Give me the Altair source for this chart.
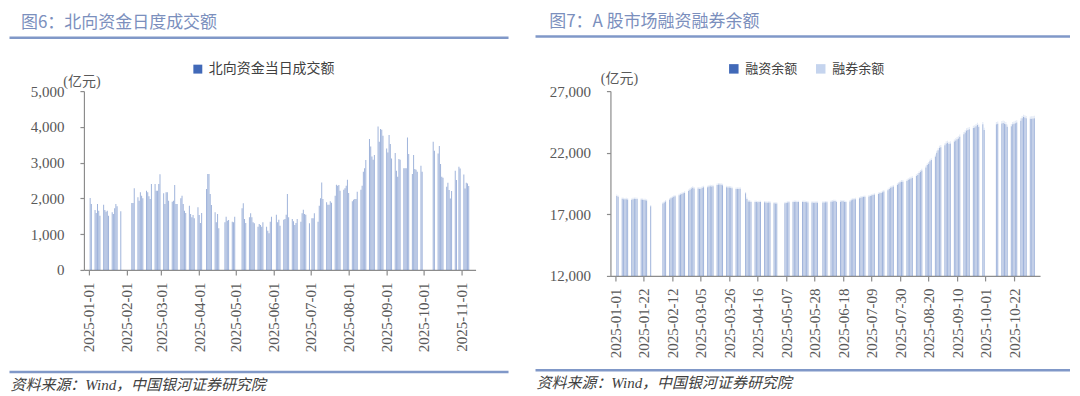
import altair as alt
import pandas as pd

# ---------------- data ----------------
TITLE_L = "图6：北向资金日度成交额"
TITLE_R = "图7：A 股市场融资融券余额"
SOURCE = "资料来源：Wind，中国银河证券研究院"
UNIT = "(亿元)"
SERIES_NB = "北向资金当日成交额"
SERIES_FIN = "融资余额"
SERIES_SEC = "融券余额"

# market closures (mainland) and extra northbound-connect closures (HK)
HOLIDAYS_CN = ["2025-01-01", "2025-01-28", "2025-01-29", "2025-01-30", "2025-01-31",
               "2025-02-03", "2025-02-04", "2025-04-04", "2025-05-01", "2025-05-02",
               "2025-05-05", "2025-06-02", "2025-10-01", "2025-10-02", "2025-10-03",
               "2025-10-06", "2025-10-07", "2025-10-08"]
HOLIDAYS_NB_EXTRA = ["2025-04-18", "2025-04-21", "2025-07-01", "2025-10-29"]

# 北向资金当日成交额 (亿元), by month
NB = {
    1: [2011, 1843, 1676, 1592, 1843, 1657, 1517, 1825, 1676, 1629, 1657, 1517, 1611, 1564, 1722, 1843, 1778, 1639],
    2: [1871, 1871, 2281, 2030, 1936, 2169, 2076, 2002, 2216, 2169, 2057, 1983, 2402, 2402, 2216, 2216, 2402, 2672],
    3: [2141, 1843, 2169, 2169, 1936, 1908, 1936, 2374, 1843, 1843, 2002, 2076, 1843, 1657, 1592, 1797, 1564, 1471, 1536, 1443, 1750],
    4: [1536, 1313, 1592, 2262, 2681, 2681, 2123, 1815, 1611, 1331, 1564, 1164, 1331, 1490, 1378, 1396, 1350, 1331, 1490],
    5: [1722, 1862, 1424, 1313, 1471, 1583, 1471, 1331, 1303, 1210, 1285, 1257, 1210, 1331, 1210, 1099, 1024, 1350, 1490],
    6: [1545, 1331, 1406, 1238, 1406, 1424, 1545, 2123, 1471, 1424, 1359, 1257, 1313, 1424, 1350, 1583, 1685, 1564, 1545, 1303],
    7: [1443, 1443, 1583, 1350, 1797, 2002, 2448, 1983, 1890, 1825, 1825, 1918, 1880, 2076, 2383, 2355, 2374, 2216, 2244, 2281, 2355, 2523],
    8: [2151, 1918, 1964, 1983, 1983, 2188, 2244, 2355, 2746, 2840, 3072, 3659, 3454, 3175, 3082, 3212, 4012, 3585, 3938, 3920, 3752],
    9: [3398, 3286, 3770, 3519, 3119, 3268, 2774, 2607, 3100, 3082, 2840, 2840, 2840, 3705, 3240, 2681, 3212, 2821, 2802, 2746, 2914, 2746],
    10: [3584, 3332, 3257, 3464, 2961, 2606, 2580, 2327, 2439, 2234, 2000, 2207, 2774, 2514, 2885, 2838],
    11: [2670, 2279, 2439, 2419, 2346],
}

# 融资余额 (亿元), by month
FIN = {
    1: [18490, 18420, 18260, 18230, 18220, 18230, 18200, 18180, 18230, 18260, 18250, 18240, 18200, 18180, 18160, 18150, 18120, 17650],
    2: [17870, 17950, 18050, 18200, 18300, 18360, 18420, 18460, 18550, 18600, 18650, 18700, 18760, 18900, 19000, 19090, 19150, 19100],
    3: [19100, 19050, 19080, 19150, 19200, 19200, 19250, 19280, 19250, 19280, 19380, 19410, 19420, 19400, 19350, 19200, 19170, 19170, 19150, 19120, 19050],
    4: [19050, 19060, 19080, 18700, 18250, 18050, 18050, 18000, 18010, 18000, 17980, 17990, 17990, 17970, 17950, 17940, 17950, 17960, 17900, 17880, 17870],
    5: [17900, 17920, 17960, 17980, 18000, 18010, 18020, 18000, 17990, 18000, 18010, 17990, 17980, 17960, 17950, 17940, 17940, 17950, 17930],
    6: [17950, 17960, 17970, 17980, 18020, 18050, 18070, 18080, 18000, 18030, 18060, 18060, 18010, 18000, 18050, 18150, 18200, 18220, 18230, 18300],
    7: [18350, 18380, 18400, 18420, 18450, 18480, 18520, 18560, 18600, 18650, 18700, 18740, 18800, 18850, 18950, 19050, 19150, 19200, 19250, 19400, 19500, 19600, 19650],
    8: [19650, 19700, 19800, 19850, 19900, 19950, 20100, 20200, 20350, 20450, 20550, 20800, 21000, 21100, 21300, 21400, 21700, 22000, 22200, 22400, 22450],
    9: [22600, 22750, 22800, 22700, 22750, 22900, 23000, 23100, 23150, 23300, 23500, 23650, 23800, 23850, 23900, 24000, 24050, 24150, 24250, 24100, 24300, 23850],
    10: [24300, 24350, 24380, 24420, 24360, 24300, 24100, 24150, 24300, 24350, 24400, 24450, 24600, 24800, 24900, 24850, 24800],
    11: [24750, 24760, 24780, 24800],
}

# 融券余额 (亿元), by month
SEC = {
    1: [112, 113, 114, 113, 112, 112, 111, 111, 112, 113, 113, 112, 112, 111, 111, 112, 112, 110],
    2: [110, 111, 112, 113, 113, 114, 115, 116, 117, 117, 118, 119, 120, 121, 122, 123, 123, 122],
    3: [122, 121, 122, 123, 124, 124, 125, 126, 126, 127, 128, 128, 127, 127, 126, 125, 124, 124, 123, 122, 121],
    4: [121, 121, 120, 116, 112, 110, 110, 109, 109, 108, 108, 108, 107, 107, 107, 106, 106, 106, 105, 105, 105],
    5: [105, 106, 106, 107, 107, 108, 108, 108, 107, 107, 108, 108, 107, 107, 107, 106, 106, 107, 106],
    6: [106, 106, 107, 107, 108, 108, 109, 109, 108, 108, 109, 109, 108, 108, 109, 110, 111, 111, 112, 113],
    7: [114, 114, 115, 115, 116, 117, 118, 118, 119, 120, 121, 121, 122, 123, 124, 126, 127, 128, 129, 131, 132, 134, 135],
    8: [135, 136, 137, 138, 139, 140, 142, 143, 145, 147, 148, 150, 152, 154, 156, 158, 160, 163, 165, 167, 168],
    9: [170, 171, 172, 171, 172, 173, 174, 175, 176, 177, 178, 179, 180, 181, 181, 182, 182, 183, 184, 183, 184, 182],
    10: [183, 184, 184, 185, 184, 183, 181, 182, 183, 184, 185, 186, 187, 189, 190, 190, 189],
    11: [189, 190, 190, 191],
}

LEFT_TICKS = ["2025-01-01", "2025-02-01", "2025-03-01", "2025-04-01", "2025-05-01", "2025-06-01",
              "2025-07-01", "2025-08-01", "2025-09-01", "2025-10-01", "2025-11-01"]
RIGHT_TICKS = ["2025-01-01", "2025-01-22", "2025-02-12", "2025-03-05", "2025-03-26", "2025-04-16",
               "2025-05-07", "2025-05-28", "2025-06-18", "2025-07-09", "2025-07-30", "2025-08-20",
               "2025-09-10", "2025-10-01", "2025-10-22"]
LEFT_Y_TICKS = [0, 1000, 2000, 3000, 4000, 5000]
RIGHT_Y_TICKS = [12000, 17000, 22000, 27000]
LEFT_X_DOMAIN = ["2025-01-01", "2025-11-08T12:00:00"]
RIGHT_X_DOMAIN = ["2025-01-01", "2025-11-06T12:00:00"]


def trading_days(month, closed):
    start = pd.Timestamp(2025, month, 1)
    end = start + pd.offsets.MonthEnd(0)
    days = [d for d in pd.bdate_range(start, end) if d.strftime("%Y-%m-%d") not in closed]
    return [d.strftime("%Y-%m-%d") for d in days]


closed_nb = set(HOLIDAYS_CN) | set(HOLIDAYS_NB_EXTRA)
closed_cn = set(HOLIDAYS_CN)

nb_rows = []
for m, vals in NB.items():
    for d, v in zip(trading_days(m, closed_nb), vals):
        nb_rows.append({"date": d, "value": v, "series": SERIES_NB})
nb_df = pd.DataFrame(nb_rows)

mg_rows = []
for m in FIN:
    days = trading_days(m, closed_cn)
    for d, f, s in zip(days, FIN[m], SEC[m]):
        mg_rows.append({"date": d, "value": f, "series": SERIES_FIN, "ord": 0})
        mg_rows.append({"date": d, "value": s, "series": SERIES_SEC, "ord": 1})
mg_df = pd.DataFrame(mg_rows)


def dt(s):
    y, mo, rest = s.split("-")
    if "T" in rest:
        dd, tm = rest.split("T")
        hh = int(tm.split(":")[0])
    else:
        dd, hh = rest, 0
    return alt.DateTime(year=int(y), month=int(mo), date=int(dd), hours=hh, utc=True)


# ---------------- style ----------------
NUM_FONT = "Liberation Serif"
CJK_FONT = "Noto Sans CJK SC"
MIX_FONT = "Liberation Serif, Noto Sans CJK SC"
AXIS_COLOR = "#8c8c8c"
LABEL_COLOR = "#595959"
TITLE_COLOR = "#7b8fbd"
RULE_COLOR = "#8098c8"
DARK_BLUE = "#4169b8"
LIGHT_BLUE = "#c5d4ee"


def x_axis(ticks):
    return alt.Axis(values=[dt(t) for t in ticks],
                    labelExpr="utcFormat(datum.value, '%Y-%m-%d')",
                    labelAngle=270, labelAlign="right", labelBaseline="middle",
                    labelFont=NUM_FONT, labelFontSize=15, labelColor=LABEL_COLOR,
                    labelPadding=7, tickSize=5, tickColor=AXIS_COLOR, domainColor=AXIS_COLOR,
                    domainWidth=1.2, tickWidth=1.2, grid=False, title=None,
                    labelOverlap=False, labelFlush=False)


def y_axis(ticks):
    return alt.Axis(values=ticks, format=",.0f", labelFont=NUM_FONT, labelFontSize=15,
                    labelColor=LABEL_COLOR, labelPadding=16, tickSize=4, tickColor=AXIS_COLOR,
                    domainColor=AXIS_COLOR, domainWidth=1.2, tickWidth=1.2, grid=False, title=None)


def one(text):
    return alt.Chart(pd.DataFrame({"t": [text]}))


def decorations(title, tx, ty, ux, uy, rule_x1, rule_x2, top_y, bot_y, src_y, blank_y):
    blank = one("").mark_rule(color="white", strokeWidth=1).encode(
        x=alt.value(rule_x1), x2=alt.value(rule_x2), y=alt.value(blank_y))
    ttl = one(title).mark_text(align="left", baseline="middle", font=CJK_FONT, fontSize=17,
                               color=TITLE_COLOR).encode(text="t:N", x=alt.value(tx), y=alt.value(ty))
    top_rule = one("").mark_rule(color=RULE_COLOR, strokeWidth=2.5).encode(
        x=alt.value(rule_x1), x2=alt.value(rule_x2), y=alt.value(top_y))
    bot_rule = one("").mark_rule(color=RULE_COLOR, strokeWidth=2.5).encode(
        x=alt.value(rule_x1), x2=alt.value(rule_x2), y=alt.value(bot_y))
    src = one(SOURCE).mark_text(align="left", baseline="middle", font=MIX_FONT, fontSize=15,
                                fontStyle="italic", color="#404040").encode(
        text="t:N", x=alt.value(rule_x1 + 1), y=alt.value(src_y))
    unit = one(UNIT).mark_text(align="center", baseline="middle", font=MIX_FONT, fontSize=14,
                               color=LABEL_COLOR).encode(text="t:N", x=alt.value(ux), y=alt.value(uy))
    return [blank, ttl, top_rule, bot_rule, src, unit]


# ---------------- left panel ----------------
left_bars = alt.Chart(nb_df).mark_bar(size=1, opacity=0.5, clip=True).encode(
    x=alt.X("date:T", scale=alt.Scale(type="utc", domain=[dt(s) for s in LEFT_X_DOMAIN]),
            axis=x_axis(LEFT_TICKS)),
    y=alt.Y("value:Q", scale=alt.Scale(domain=[0, 5000], nice=False), axis=y_axis(LEFT_Y_TICKS)),
    color=alt.Color("series:N", scale=alt.Scale(domain=[SERIES_NB], range=[DARK_BLUE]),
                    legend=alt.Legend(title=None, orient="none", legendX=107, legendY=-29,
                                      symbolType="square", symbolSize=80, symbolOpacity=1,
                                      symbolStrokeWidth=0, labelFont=CJK_FONT, labelFontSize=14,
                                      labelColor="#404040", labelOffset=4, padding=0)),
)

left = alt.layer(
    left_bars,
    *decorations(TITLE_L, -63, -68.2, -2, -9.5, -74.5, 425, -53.3, 281.2, 293.7, -80.8)
).properties(width=392, height=179)

# ---------------- right panel ----------------
right_bars = alt.Chart(mg_df).mark_bar(size=1, opacity=0.5, clip=True).encode(
    x=alt.X("date:T", scale=alt.Scale(type="utc", domain=[dt(s) for s in RIGHT_X_DOMAIN]),
            axis=x_axis(RIGHT_TICKS)),
    y=alt.Y("value:Q", stack="zero", scale=alt.Scale(domain=[12000, 27000], zero=False, nice=False),
            axis=y_axis(RIGHT_Y_TICKS)),
    color=alt.Color("series:N", scale=alt.Scale(domain=[SERIES_FIN, SERIES_SEC], range=[DARK_BLUE, LIGHT_BLUE]),
                    legend=alt.Legend(title=None, orient="none", legendX=117, legendY=-29,
                                      direction="horizontal", columnPadding=16,
                                      symbolType="square", symbolSize=90, symbolOpacity=1,
                                      symbolStrokeWidth=0, labelFont=CJK_FONT, labelFontSize=13,
                                      labelColor="#404040", labelOffset=5, padding=0)),
    order=alt.Order("ord:Q", sort="ascending"),
)

right = alt.layer(
    right_bars,
    *decorations(TITLE_R, -61.3, -69.2, 9, -11.7, -75, 460, -54.7, 279.3, 292.3, -82.2)
).properties(width=430, height=185)

chart = alt.hconcat(left, right, spacing=23).resolve_scale(
    x="independent", y="independent", color="independent"
).configure_view(stroke=None).properties(padding=0, background="white")

chart.save("out.html", embed_options={"renderer": "svg", "actions": False})
